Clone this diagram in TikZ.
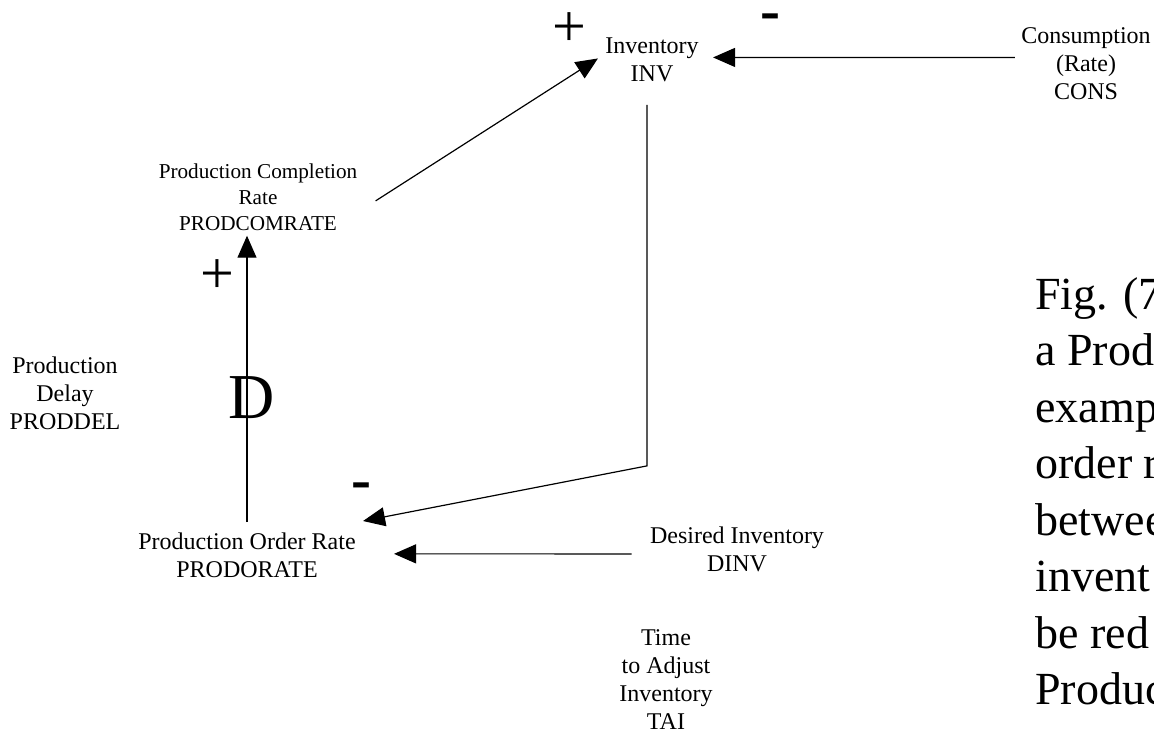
\documentclass[tikz,border=0pt]{standalone}
\usepackage{fontspec}
\setmainfont{Liberation Serif}
\usetikzlibrary{arrows.meta,positioning}

\begin{document}
\begin{tikzpicture}
		[x=0.5pt,y=-0.5pt,
		lbl/.style={draw=none,fill=none,inner sep=0pt,align=center,anchor=north,font=\fontsize{12}{14}\selectfont},
		sign/.style={draw=none,fill=none,inner sep=0pt,anchor=base,font=\fontsize{30}{36}\selectfont},
		arr/.style={line width=0.6pt,-{Triangle[length=11pt,width=9.5pt]}}]
		\useasboundingbox (0,0) rectangle (1154,734);
		
		\node[lbl] (inv) at (652,37) {Inventory\\INV};
		\node[lbl] (cons) at (1086,27) {Consumption\\(Rate)\\CONS};
		\node[lbl,font=\fontsize{10.6}{13}\selectfont] (pcr) at (258,163) {Production Completion\\Rate\\PRODCOMRATE};
		\node[lbl] (pdel) at (65,356) {Production\\Delay\\PRODDEL};
		\node[lbl] (por) at (247,532) {Production Order Rate\\PRODORATE};
		\node[lbl] (dinv) at (737,526) {Desired Inventory\\DINV};
		\node[lbl] (tai) at (666,629) {Time\\to Adjust\\Inventory\\TAI};
		
		\node[sign] (p1) at (569,46) {+};
		\node[sign,font=\fontsize{30}{36}\selectfont\bfseries] (m1) at (770,30) {-};
		\node[sign] (p2) at (217,293) {+};
		\node[sign,font=\fontsize{30}{36}\selectfont\bfseries] (m2) at (361,499) {-};
		\node[sign,font=\fontsize{32}{38}\selectfont] (d) at (252,418) {D};
		
		% caption, cut at the right edge
		\node[draw=none,fill=none,inner sep=0pt,anchor=north west,align=left,
		font=\fontsize{23}{28.25}\selectfont] (cap) at (1035,277)
		{Fig. (7\\a Prod\\examp\\order r\\betwee\\invent\\be red\\Produc};
		
		\draw[arr] ([shift={(-6,-6)}]cons.west) to ([shift={(14,-2)}]inv.east);
		\draw[arr] ([shift={(18,4)}]pcr.east) to ([shift={(-7,-1)}]inv.west);
		\draw[arr] ([shift={(0,-10)}]por.north) to ([yshift=-2.5pt]pcr.south -| por.north);
		\draw[arr] ([shift={(-5,23)}]inv.south) -- ++(0,361) -- ([shift={(7,-11)}]por.north east);
		\draw[arr] ([shift={(-18,5)}]dinv.west) to ([shift={(38,-1)}]por.east);
		\end{tikzpicture}
\end{document}
